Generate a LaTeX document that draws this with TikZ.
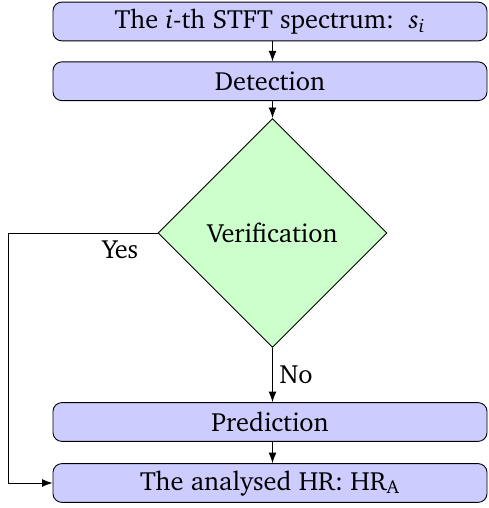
\documentclass[tikz,border=0pt]{standalone}
\usepackage[T1]{fontenc}
\usepackage{charter}
\usepackage{tikz}
\usetikzlibrary{arrows.meta,shapes.geometric}
\newcommand{\lowsub}[1]{$_{\mbox{\fontsize{8.5}{10}\selectfont #1}}$}

\begin{document}
\begin{tikzpicture}[
      >=Latex,
      font=\fontsize{12}{14.5}\selectfont,
      stepbox/.style={draw,rounded corners=4pt,fill=blue!20,minimum width=6.944cm,minimum height=0.62cm,inner sep=2pt},
      decision/.style={diamond,draw,fill=green!20,minimum width=3.664cm,minimum height=3.664cm,aspect=1,inner sep=0pt},
      label/.style={inner sep=3pt}
    ]
    \useasboundingbox (0,0) rectangle (7.808,-8.128);

    \node[stepbox] (spec) at (4.32,-0.344) {The \textit{i}-th STFT spectrum:\ \ \textit{s}\lowsub{\itshape i}};
    \node[stepbox] (det) at (4.32,-1.30) {Detection};
    \node[decision] (ver) at (4.36,-3.728) {Verification};
    \node[stepbox] (pred) at (4.32,-6.752) {Prediction};
    \node[stepbox] (hr) at (4.32,-7.728) {The analysed HR: HR\lowsub{A}};
    \coordinate (bend) at (0.128,-3.728);

    \draw[->] (spec.south -| ver) -- (det.north -| ver);
    \draw[->] (det.south -| ver) -- (ver.north);
    \draw[->] (ver.south) -- node[label,right] {No} (pred.north -| ver);
    \draw[->] (pred.south -| ver) -- (hr.north -| ver);
    \draw[->] (ver.west) -- node[label,below,pos=0.25] {Yes} (bend) |- (hr.west);
  \end{tikzpicture}
\end{document}
